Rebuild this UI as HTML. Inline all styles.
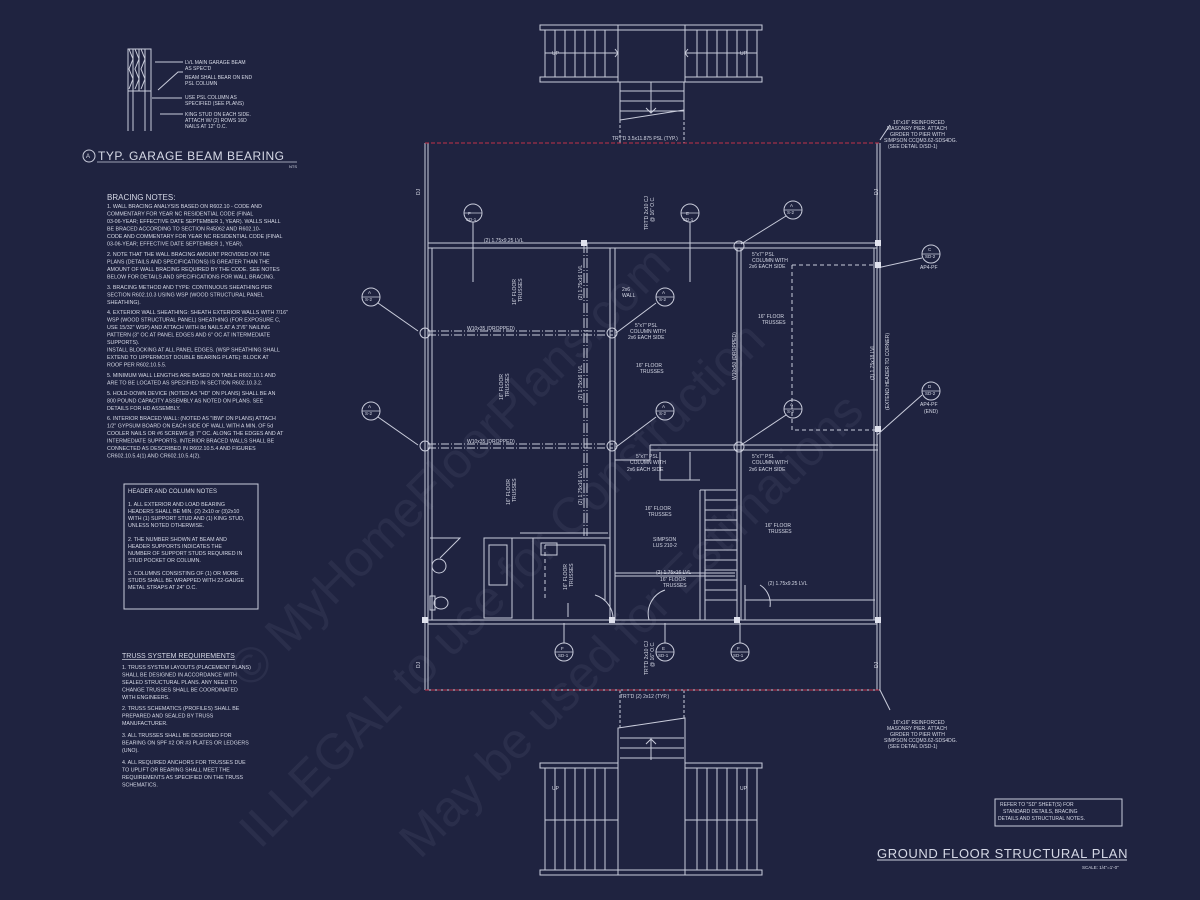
<!DOCTYPE html>
<html><head><meta charset="utf-8"><style>
html,body{margin:0;padding:0;background:#1f2340;}
svg{display:block}
text{font-family:"Liberation Sans",sans-serif;fill:#d6d9e6;}
.t{font-size:5.3px}
.s{font-size:5px}
</style></head><body>
<svg width="1200" height="900" viewBox="0 0 1200 900" xmlns="http://www.w3.org/2000/svg">
<rect width="1200" height="900" fill="#1f2340"/>
<g fill="none" stroke="#c9ccdb" stroke-width="1">
<rect x="128" y="49" width="23" height="42"/>
<path d="M128 49v42M133 49v42M139 49v42M145 49v42M151 49v42M135 49 l4 10 -4 10 4 10 -4 10M141 49 l4 10 -4 10 4 10 -4 10M129 49 l4 10 -4 10 4 10 -4 10"/>
<path d="M128 91v40M133 91v40M145 91v40M151 91v40"/>
<path d="M155 62h28M158 90l20-18h5M152 98h30M160 114h23"/>
<path d="M97 162h200" stroke-width="0.8"/>
<circle cx="89" cy="156" r="6"/>
<rect x="124" y="484" width="134" height="125"/>
<rect x="995" y="799" width="127" height="27"/>
<path d="M877 860h250"/>
<rect x="540" y="25" width="222" height="5"/>
<rect x="540" y="77" width="78" height="5"/><rect x="685" y="77" width="77" height="5"/>
<path d="M545 30v47M618 25v57M685 25v57M757 30v47M545 53h73M685 53h72"/>
<path d="M555 30v47M565 30v47M575 30v47M585 30v47M595 30v47M605 30v47M697 30v47M707 30v47M717 30v47M727 30v47M737 30v47M747 30v47"/>
<path d="M618 82h67M620 82v40M684 82v35M620 91h64M620 101h64M620 111h64M620 120l64-10M651 82v30M646 108l5 5 5-5M615 57l3-4-3-4M688 57l-3-4 3-4"/>
<path d="M620 120v23M684 112v31" stroke-dasharray="3 2"/>
<rect x="540" y="870" width="222" height="5"/>
<rect x="540" y="763" width="78" height="5"/><rect x="685" y="763" width="77" height="5"/>
<path d="M545 768v102M618 763v112M685 763v112M757 768v102M545 820h73M685 820h72"/>
<path d="M555 768v102M565 768v102M575 768v102M585 768v102M595 768v102M605 768v102M697 768v102M707 768v102M717 768v102M727 768v102M737 768v102M747 768v102"/>
<path d="M618 763V728l67-10v45M620 738h64M620 748h64M620 758h64M651 740v20M646 744l5-5 5 5"/>
<path d="M620 728v-38M684 718v-28" stroke-dasharray="3 2"/>
<path d="M425 143v547M880 143v547M428 143v547M877 143v547"/>
<path d="M425 690h455"/>
<path d="M428 243h450M428 248h449M428 620h450M428 624h449" />
<path d="M432 248v372M874 248v372"/>
<path d="M428 331h185M428 335h185M428 444h185M428 448h185" stroke-dasharray="8 2 1 2"/>
<path d="M610 248v372M615 248v372" stroke-width="1"/>
<path d="M584 243v293M587 243v293" stroke-dasharray="10 2 1 2"/>
<path d="M737 248v372M741 248v372"/>
<path d="M650 445h228M650 450h228M650 445v15h-35"/>
<path d="M792 265h83M792 265v165h83" stroke-dasharray="4 3"/>
<path d="M430 538h30l-20 20M520 533h88M510 538h100M533 538v82M545 545h60v55" />
<path d="M484 538h28v80h-28zM489 545h18v40h-18z"/>
<path d="M545 545v55" stroke-dasharray="4 3"/>
<path d="M700 490h36M700 490v130M705 490v130M705 500h32M705 510h32M705 520h32M705 530h32M705 540h32M705 550h32M705 560h32M705 570h32M705 580h32M705 590h32M705 600h32"/>
<path d="M660 452v28h40M690 452v28"/>
<path d="M615 573h120M615 576h120"/>
<path d="M745 585v35M745 600h130"/>
<circle cx="439" cy="566" r="7"/><ellipse cx="441" cy="603" rx="7" ry="6"/><rect x="430" y="596" width="5" height="14"/>
<rect x="541" y="543" width="16" height="12"/>
<path d="M595 595a25 25 0 0 1 18 26M665 590a25 25 0 0 0-16 30M760 585a22 22 0 0 1 10 22"/>
<path d="M568 603v14"/>
<circle cx="473" cy="213" r="9"/><circle cx="690" cy="213" r="9"/><circle cx="793" cy="210" r="9"/>
<circle cx="665" cy="297" r="9"/><circle cx="665" cy="411" r="9"/><circle cx="793" cy="409" r="9"/>
<circle cx="371" cy="297" r="9"/><circle cx="371" cy="411" r="9"/>
<circle cx="564" cy="652" r="9"/><circle cx="665" cy="652" r="9"/><circle cx="740" cy="652" r="9"/>
<circle cx="931" cy="254" r="9"/><circle cx="931" cy="391" r="9"/>
<path d="M464 213h18M681 213h18M784 210h18M656 297h18M656 411h18M784 409h18M362 297h18M362 411h18M555 652h18M656 652h18M731 652h18M922 254h18M922 391h18" stroke-width="0.7"/>
<path d="M473 222v60M690 222v60M564 643v-20M665 643v-20M740 643v-20"/>
<path d="M786 216l-45 28M656 303l-40 30M656 417l-40 30M786 415l-45 30M378 303l40 28M378 417l40 28M922 258l-45 10M922 395l-45 40"/>
<path d="M880 140l10-15M880 690l10 20"/>
<circle cx="425" cy="333" r="5"/><circle cx="425" cy="446" r="5"/><circle cx="612" cy="333" r="5"/><circle cx="612" cy="446" r="5"/><circle cx="739" cy="246" r="5"/><circle cx="739" cy="447" r="5"/>
</g>
<path d="M425 143h455M425 690h455" stroke="#c03048" stroke-width="1" stroke-dasharray="4 2"/>
<g fill="#e0e2ee">
<rect x="422" y="617" width="6" height="6"/><rect x="609" y="617" width="6" height="6"/><rect x="734" y="617" width="6" height="6"/><rect x="875" y="617" width="6" height="6"/>
<rect x="875" y="240" width="6" height="6"/><rect x="875" y="262" width="6" height="6"/><rect x="875" y="426" width="6" height="6"/><rect x="581" y="240" width="6" height="6"/>
</g>
<g class="s">
<text x="185" y="64">LVL MAIN GARAGE BEAM</text><text x="185" y="70">AS SPEC'D</text>
<text x="185" y="79">BEAM SHALL BEAR ON END</text><text x="185" y="85">PSL COLUMN</text>
<text x="185" y="99">USE PSL COLUMN AS</text><text x="185" y="105">SPECIFIED (SEE PLANS)</text>
<text x="185" y="116">KING STUD ON EACH SIDE.</text><text x="185" y="122">ATTACH W/ (2) ROWS 16D</text><text x="185" y="128">NAILS AT 12" O.C.</text>
<text x="289" y="168" font-size="4">NTS</text>
</g>
<text x="86" y="158" font-size="6">A</text>
<text x="98" y="160" font-size="12" letter-spacing="0.5">TYP. GARAGE BEAM BEARING</text>
<text x="107" y="200" font-size="8">BRACING NOTES:</text>
<g class="t">
<text x="107" y="208">1. WALL BRACING ANALYSIS BASED ON R602.10 - CODE AND</text>
<text x="107" y="215.5">COMMENTARY FOR YEAR NC RESIDENTIAL CODE (FINAL</text>
<text x="107" y="223">03-06-YEAR; EFFECTIVE DATE SEPTEMBER 1, YEAR). WALLS SHALL</text>
<text x="107" y="230.5">BE BRACED ACCORDING TO SECTION R45062 AND R602.10-</text>
<text x="107" y="238">CODE AND COMMENTARY FOR YEAR NC RESIDENTIAL CODE (FINAL</text>
<text x="107" y="245.5">03-06-YEAR; EFFECTIVE DATE SEPTEMBER 1, YEAR).</text>
<text x="107" y="256">2. NOTE THAT THE WALL BRACING AMOUNT PROVIDED ON THE</text>
<text x="107" y="263.5">PLANS (DETAILS AND SPECIFICATIONS) IS GREATER THAN THE</text>
<text x="107" y="271">AMOUNT OF WALL BRACING REQUIRED BY THE CODE. SEE NOTES</text>
<text x="107" y="278.5">BELOW FOR DETAILS AND SPECIFICATIONS FOR WALL BRACING.</text>
<text x="107" y="289">3. BRACING METHOD AND TYPE: CONTINUOUS SHEATHING PER</text>
<text x="107" y="296.5">SECTION R602.10.3 USING WSP (WOOD STRUCTURAL PANEL</text>
<text x="107" y="304">SHEATHING).</text>
<text x="107" y="314">4. EXTERIOR WALL SHEATHING: SHEATH EXTERIOR WALLS WITH 7/16"</text>
<text x="107" y="321.5">WSP (WOOD STRUCTURAL PANEL) SHEATHING (FOR EXPOSURE C,</text>
<text x="107" y="329">USE 15/32" WSP) AND ATTACH WITH 8d NAILS AT A 3"/6" NAILING</text>
<text x="107" y="336.5">PATTERN (3" OC AT PANEL EDGES AND 6" OC AT INTERMEDIATE</text>
<text x="107" y="344">SUPPORTS).</text>
<text x="107" y="351.5">INSTALL BLOCKING AT ALL PANEL EDGES. (WSP SHEATHING SHALL</text>
<text x="107" y="359">EXTEND TO UPPERMOST DOUBLE BEARING PLATE): BLOCK AT</text>
<text x="107" y="366.5">ROOF PER R602.10.5.5.</text>
<text x="107" y="377">5. MINIMUM WALL LENGTHS ARE BASED ON TABLE R602.10.1 AND</text>
<text x="107" y="384.5">ARE TO BE LOCATED AS SPECIFIED IN SECTION R602.10.3.2.</text>
<text x="107" y="395">5. HOLD-DOWN DEVICE (NOTED AS "HD" ON PLANS) SHALL BE AN</text>
<text x="107" y="402.5">800 POUND CAPACITY ASSEMBLY AS NOTED ON PLANS. SEE</text>
<text x="107" y="410">DETAILS FOR HD ASSEMBLY.</text>
<text x="107" y="420">6. INTERIOR BRACED WALL: (NOTED AS "IBW" ON PLANS) ATTACH</text>
<text x="107" y="427.5">1/2" GYPSUM BOARD ON EACH SIDE OF WALL WITH A MIN. OF 5d</text>
<text x="107" y="435">COOLER NAILS OR #6 SCREWS @ 7" OC. ALONG THE EDGES AND AT</text>
<text x="107" y="442.5">INTERMEDIATE SUPPORTS. INTERIOR BRACED WALLS SHALL BE</text>
<text x="107" y="450">CONNECTED AS DESCRIBED IN R602.10.5.4 AND FIGURES</text>
<text x="107" y="457.5">CR602.10.5.4(1) AND CR602.10.5.4(2).</text>
<text x="128" y="493" font-size="6">HEADER AND COLUMN NOTES</text>
<text x="128" y="506">1. ALL EXTERIOR AND LOAD BEARING</text>
<text x="128" y="513">HEADERS SHALL BE MIN. (2) 2x10 or (3)2x10</text>
<text x="128" y="520">WITH (1) SUPPORT STUD AND (1) KING STUD,</text>
<text x="128" y="527">UNLESS NOTED OTHERWISE.</text>
<text x="128" y="541">2. THE NUMBER SHOWN AT BEAM AND</text>
<text x="128" y="548">HEADER SUPPORTS INDICATES THE</text>
<text x="128" y="555">NUMBER OF SUPPORT STUDS REQUIRED IN</text>
<text x="128" y="562">STUD POCKET OR COLUMN.</text>
<text x="128" y="575">3. COLUMNS CONSISTING OF (1) OR MORE</text>
<text x="128" y="582">STUDS SHALL BE WRAPPED WITH 22-GAUGE</text>
<text x="128" y="589">METAL STRAPS AT 24" O.C.</text>
<text x="122" y="658" font-size="7" text-decoration="underline">TRUSS SYSTEM REQUIREMENTS</text>
<text x="122" y="669">1. TRUSS SYSTEM LAYOUTS (PLACEMENT PLANS)</text>
<text x="122" y="676.5">SHALL BE DESIGNED IN ACCORDANCE WITH</text>
<text x="122" y="684">SEALED STRUCTURAL PLANS. ANY NEED TO</text>
<text x="122" y="691.5">CHANGE TRUSSES SHALL BE COORDINATED</text>
<text x="122" y="699">WITH ENGINEERS.</text>
<text x="122" y="710">2. TRUSS SCHEMATICS (PROFILES) SHALL BE</text>
<text x="122" y="717.5">PREPARED AND SEALED BY TRUSS</text>
<text x="122" y="725">MANUFACTURER.</text>
<text x="122" y="737">3. ALL TRUSSES SHALL BE DESIGNED FOR</text>
<text x="122" y="744.5">BEARING ON SPF #2 OR #3 PLATES OR LEDGERS</text>
<text x="122" y="752">(UNO).</text>
<text x="122" y="764">4. ALL REQUIRED ANCHORS FOR TRUSSES DUE</text>
<text x="122" y="771.5">TO UPLIFT OR BEARING SHALL MEET THE</text>
<text x="122" y="779">REQUIREMENTS AS SPECIFIED ON THE TRUSS</text>
<text x="122" y="786.5">SCHEMATICS.</text>
</g>
<g class="s">
<text x="612" y="140">TRT'D 3.5x11.875 PSL (TYP.)</text>
<text x="620" y="698">TRT'D (2) 2x12 (TYP.)</text>
<text x="484" y="242">(2) 1.75x9.25 LVL</text>
<text x="467" y="330">W10x35 (DROPPED)</text>
<text x="467" y="443">W10x35 (DROPPED)</text>
<text x="636" y="367">16" FLOOR</text><text x="640" y="373">TRUSSES</text>
<text x="758" y="318">16" FLOOR</text><text x="762" y="324">TRUSSES</text>
<text x="765" y="527">16" FLOOR</text><text x="768" y="533">TRUSSES</text>
<text x="645" y="510">16" FLOOR</text><text x="648" y="516">TRUSSES</text>
<text x="660" y="581">16" FLOOR</text><text x="663" y="587">TRUSSES</text>
<text x="752" y="256">5"x7" PSL</text><text x="752" y="262">COLUMN WITH</text><text x="749" y="268">2x6 EACH SIDE</text>
<text x="635" y="327">5"x7" PSL</text><text x="630" y="333">COLUMN WITH</text><text x="628" y="339">2x6 EACH SIDE</text>
<text x="636" y="458">5"x7" PSL</text><text x="630" y="464">COLUMN WITH</text><text x="627" y="471">2x6 EACH SIDE</text>
<text x="752" y="458">5"x7" PSL</text><text x="752" y="464">COLUMN WITH</text><text x="749" y="471">2x6 EACH SIDE</text>
<text x="622" y="291">2x6</text><text x="622" y="297">WALL</text>
<text x="653" y="541">SIMPSON</text><text x="653" y="547">LUS 210-2</text>
<text x="656" y="574">(2) 1.75x16 LVL</text>
<text x="768" y="585">(2) 1.75x9.25 LVL</text>
<text x="468" y="215" font-size="4.5">F</text><text x="466" y="221" font-size="4.5">SD-1</text>
<text x="686" y="215" font-size="4.5">E</text><text x="683" y="221" font-size="4.5">SD-1</text>
<text x="790" y="207" font-size="4.5">A</text><text x="787" y="214" font-size="4.5">S-2</text>
<text x="662" y="294" font-size="4.5">A</text><text x="659" y="301" font-size="4.5">S-2</text>
<text x="662" y="408" font-size="4.5">A</text><text x="659" y="415" font-size="4.5">S-2</text>
<text x="790" y="406" font-size="4.5">A</text><text x="787" y="413" font-size="4.5">S-2</text>
<text x="368" y="294" font-size="4.5">A</text><text x="365" y="301" font-size="4.5">S-2</text>
<text x="368" y="408" font-size="4.5">A</text><text x="365" y="415" font-size="4.5">S-2</text>
<text x="561" y="650" font-size="4.5">F</text><text x="558" y="657" font-size="4.5">SD-1</text>
<text x="662" y="650" font-size="4.5">E</text><text x="658" y="657" font-size="4.5">SD-1</text>
<text x="737" y="650" font-size="4.5">F</text><text x="733" y="657" font-size="4.5">SD-1</text>
<text x="928" y="251" font-size="4.5">C</text><text x="925" y="258" font-size="4.5">SD-2</text>
<text x="928" y="388" font-size="4.5">D</text><text x="925" y="395" font-size="4.5">SD-2</text>
<text x="920" y="269">AP4-PF</text>
<text x="920" y="406">AP4-PF</text><text x="924" y="413">(END)</text>
<text x="893" y="124">16"x16" REINFORCED</text><text x="887" y="130">MASONRY PIER. ATTACH</text><text x="890" y="136">GIRDER TO PIER WITH</text><text x="884" y="142">SIMPSON CCQM3.62-SDS4DG.</text><text x="888" y="148">(SEE DETAIL D/SD-1)</text>
<text x="893" y="724">16"x16" REINFORCED</text><text x="887" y="730">MASONRY PIER. ATTACH</text><text x="890" y="736">GIRDER TO PIER WITH</text><text x="884" y="742">SIMPSON CCQM3.62-SDS4DG.</text><text x="888" y="748">(SEE DETAIL D/SD-1)</text>
<text x="1000" y="806">REFER TO "SD" SHEET(S) FOR</text><text x="1003" y="813">STANDARD DETAILS, BRACING</text><text x="998" y="820">DETAILS AND STRUCTURAL NOTES.</text>
<text x="1082" y="869" font-size="4.5">SCALE: 1/4"=1'-0"</text>
<text x="552" y="55">UP</text><text x="740" y="55">UP</text><text x="552" y="790">UP</text><text x="740" y="790">UP</text>
</g>
<g class="s">
<text transform="translate(648,230) rotate(-90)">TRT'D 2x10 CJ</text><text transform="translate(654,222) rotate(-90)">@ 16" O.C.</text>
<text transform="translate(648,675) rotate(-90)">TRT'D 2x10 CJ</text><text transform="translate(654,667) rotate(-90)">@ 16" O.C.</text>
<text transform="translate(516,305) rotate(-90)">16" FLOOR</text><text transform="translate(522,302) rotate(-90)">TRUSSES</text>
<text transform="translate(503,400) rotate(-90)">16" FLOOR</text><text transform="translate(509,397) rotate(-90)">TRUSSES</text>
<text transform="translate(510,505) rotate(-90)">16" FLOOR</text><text transform="translate(516,502) rotate(-90)">TRUSSES</text>
<text transform="translate(567,590) rotate(-90)">16" FLOOR</text><text transform="translate(573,587) rotate(-90)">TRUSSES</text>
<text transform="translate(582,300) rotate(-90)">(2) 1.75x16 LVL</text>
<text transform="translate(582,400) rotate(-90)">(2) 1.75x16 LVL</text>
<text transform="translate(582,505) rotate(-90)">(2) 1.75x16 LVL</text>
<text transform="translate(736,380) rotate(-90)">W10x50 (DROPPED)</text>
<text transform="translate(874,380) rotate(-90)">(3) 1.75x18 LVL</text>
<text transform="translate(889,410) rotate(-90)">(EXTEND HEADER TO CORNER)</text>
<text transform="translate(420,195) rotate(-90)">DJ</text><text transform="translate(878,195) rotate(-90)">DJ</text>
<text transform="translate(420,668) rotate(-90)">DJ</text><text transform="translate(878,668) rotate(-90)">DJ</text>
</g>
<text x="877" y="858" font-size="13" letter-spacing="0.6">GROUND FLOOR STRUCTURAL PLAN</text>
<g opacity="0.08" font-family="Liberation Serif,serif">
<text transform="translate(250,690) rotate(-45)" font-size="50" style="fill:#b0b4cc">© MyHomeFloorPlans.com</text>
<text transform="translate(260,850) rotate(-45)" font-size="50" style="fill:#b0b4cc">ILLEGAL to use for Construction</text>
<text transform="translate(420,860) rotate(-45)" font-size="50" style="fill:#b0b4cc">May be used for Estimations</text>
</g>
</svg>
</body></html>
